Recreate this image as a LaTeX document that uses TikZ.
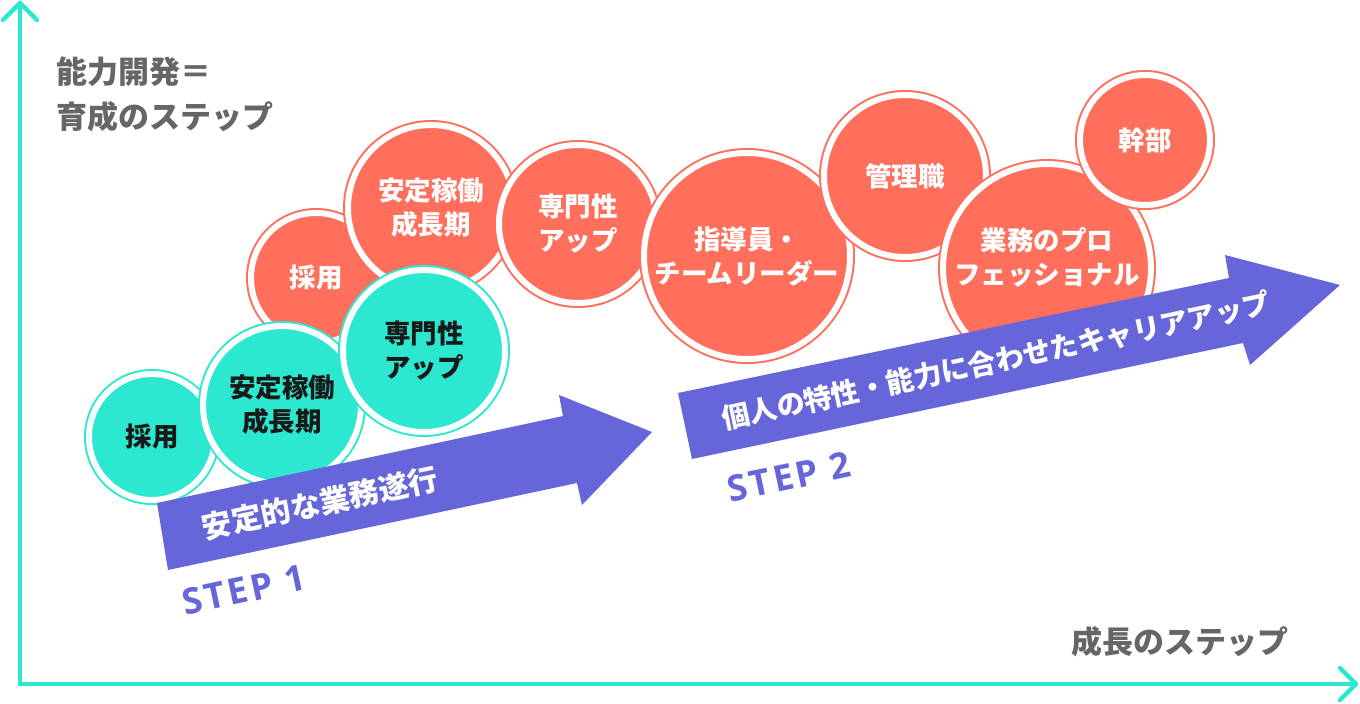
\documentclass[tikz,border=0pt]{standalone}
\usepackage{fontspec}
\newfontfamily\jp{Noto Sans CJK JP}
\newfontfamily\stepfont[LetterSpace=8]{Open Sans}
\definecolor{tealc}{HTML}{2DE8D0}
\definecolor{coralc}{HTML}{FF6F5B}
\definecolor{purplec}{HTML}{6665DA}
\definecolor{grayc}{HTML}{666666}
\begin{document}
\begin{tikzpicture}[x=1pt,y=-1pt,
  axis/.style={draw=tealc, line width=4.5pt, line cap=round, line join=round},
  bub/.style={circle, inner sep=0pt, align=center, line width=2pt, double=white, double distance=6pt,
    font=\jp\bfseries\fontsize{26.5}{34}\selectfont},
  redb/.style={bub, fill=coralc, draw=coralc, text=white},
  tealb/.style={bub, fill=tealc, draw=tealc, text=black!90},
  band/.style={fill=purplec},
  bandtext/.style={text=white, rotate=12, inner sep=0pt, font=\jp\bfseries\fontsize{#1}{#1}\selectfont},
  steplbl/.style={text=purplec, rotate=12, inner sep=0pt, font=\stepfont\bfseries\fontsize{36}{36}\selectfont},
  lbl/.style={text=grayc, inner sep=0pt, align=left, font=\jp\bfseries\fontsize{31}{45}\selectfont}]
\useasboundingbox (0,0) rectangle (1360,704);

% axes
\coordinate (origin) at (20,684);
\coordinate (ytip) at (20,3);
\coordinate (xtip) at (1356,684);
\draw[axis] (origin) -- (ytip);
\draw[axis] (origin) -- (xtip);
\draw[axis] (ytip) ++(-17,17) -- (ytip) -- ++(17,17);
\draw[axis] (xtip) ++(-16,-16) -- (xtip) -- ++(-16,16);

% axis labels
\node[lbl, anchor=north west] (ylab) at (56,57) {能力開発＝\\育成のステップ};
\node[lbl, anchor=north west] (xlab) at (1071,626) {成長のステップ};

% red bubbles (step 2 path)
\node[redb, minimum size=130pt] (r1) at (316,278) {採用};
\node[redb, minimum size=166pt] (r2) at (431,208) {安定稼働\\成長期};
\node[redb, minimum size=158pt] (r3) at (578,224) {専門性\\アップ};
\node[redb, minimum size=206pt] (r4) at (747,256) {指導員・\\チームリーダー};
\node[redb, minimum size=162pt] (r5) at (905,176) {管理職};
\node[redb, minimum size=208pt, text depth=24pt] (r6) at (1047,268) {業務のプロ\\フェッショナル};
\node[redb, minimum size=130pt] (r7) at (1145,140) {幹部};

% teal bubbles (step 1 path)
\node[tealb, minimum size=126pt] (t1) at (152,437) {採用};
\node[tealb, minimum size=158pt] (t2) at (282,405) {安定稼働\\成長期};
\node[tealb, minimum size=162pt] (t3) at (424,351) {専門性\\アップ};

% big arrows
\fill[band] (157,503) -- (563,416) -- (559,395) -- (652,432) -- (582,505) -- (577,483) -- (168,570) -- cycle;
\fill[band] (678,393) -- (1229,278) -- (1225,255) -- (1340,285) -- (1250,365) -- (1243,343) -- (692,459) -- cycle;

\node[bandtext=30] (a1) at (320,503) {安定的な業務遂行};
\node[bandtext=28] (a2) at (996,361) {個人の特性・能力に合わせたキャリアアップ};

\node[steplbl] (s1) at (244,590) {STEP 1};
\node[steplbl] (s2) at (789,477) {STEP 2};
\end{tikzpicture}
\end{document}
